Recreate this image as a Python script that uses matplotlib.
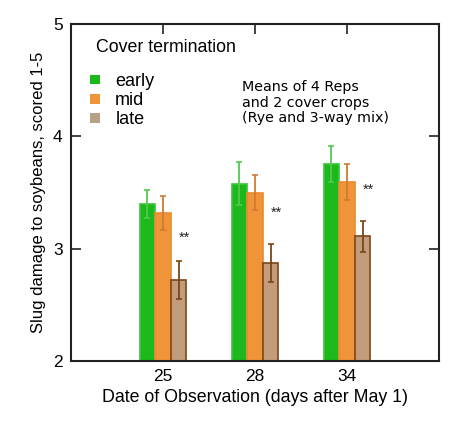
import matplotlib
matplotlib.use("Agg")
import matplotlib.pyplot as plt
from matplotlib.patches import Patch
import numpy as np

plt.rcParams['font.family'] = ['Liberation Sans', 'DejaVu Sans']

days = ['25', '28', '34']
early = [3.40, 3.58, 3.75]
mid = [3.32, 3.50, 3.59]
late = [2.72, 2.87, 3.11]
early_err = [0.125, 0.19, 0.16]
mid_err = [0.15, 0.16, 0.16]
late_err = [0.17, 0.17, 0.14]
series_names = ['early', 'mid', 'late']
sig_y = [3.10, 3.32, 3.52]

fig = plt.figure(figsize=(4.63, 4.26), dpi=100)
ax = fig.add_axes([71/463, 1-361/426, (439-71)/463, (361-24)/426])

x = np.arange(1, len(days)+1)
w = 0.17
fills = ['#1cb81c', '#f0943a', '#c39c7c']
edges = ['#3cc43c', '#e88a30', '#7a4618']
ecols = ['#52c852', '#d27a30', '#7a4618']
vals = [early, mid, late]
errs = [early_err, mid_err, late_err]
for i, (v, e) in enumerate(zip(vals, errs)):
    ax.bar(x + (i-1)*w, v, width=w, bottom=0, color=fills[i], edgecolor=edges[i],
           linewidth=1.2, zorder=2)
    ax.errorbar(x + (i-1)*w, v, yerr=e, fmt='none', ecolor=ecols[i],
                elinewidth=1.3, capsize=2.5, capthick=1.2, zorder=3)

for xi, yi in zip(x, sig_y):
    ax.text(xi + 0.23, yi, '**', fontsize=10.5, ha='center', va='center', color='#222222')

ax.set_xlim(0, 4)
ax.set_ylim(2, 5)
ax.set_xticks(x)
ax.set_xticklabels(days)
ax.set_yticks([2, 3, 4, 5])
ax.tick_params(direction='in', length=7.5, width=1.2, labelsize=12.5, top=True, right=True,
               color='#222222', pad=6)
for s in ax.spines.values():
    s.set_linewidth(1.5)
    s.set_color('#222222')

ax.set_xlabel('Date of Observation (days after May 1)', fontsize=12.8, labelpad=3)
ax.set_ylabel('Slug damage to soybeans, scored 1-5', fontsize=12, labelpad=5)

handles = [Patch(facecolor=fills[0], edgecolor='none'),
           Patch(facecolor=fills[1], edgecolor='none'),
           Patch(facecolor='#b9a088', edgecolor='none')]
ax.text((96-71)/368, (361-48)/337, 'Cover termination', transform=ax.transAxes,
        fontsize=12.8, ha='left', va='center')
ax.legend(handles, series_names, loc='upper left', bbox_to_anchor=((90-71)/368, (361-73)/337),
          frameon=False, fontsize=13, handlelength=0.55, handleheight=0.45,
          handletextpad=0.85, labelspacing=0.12, borderaxespad=0, borderpad=0)

ax.text((242-71)/368, (361-80)/337, 'Means of 4 Reps\nand 2 cover crops\n(Rye and 3-way mix)',
        transform=ax.transAxes, fontsize=10.3, va='top', ha='left', linespacing=1.15,
        family=['DejaVu Sans'])

fig.savefig('out.png', dpi=100)
